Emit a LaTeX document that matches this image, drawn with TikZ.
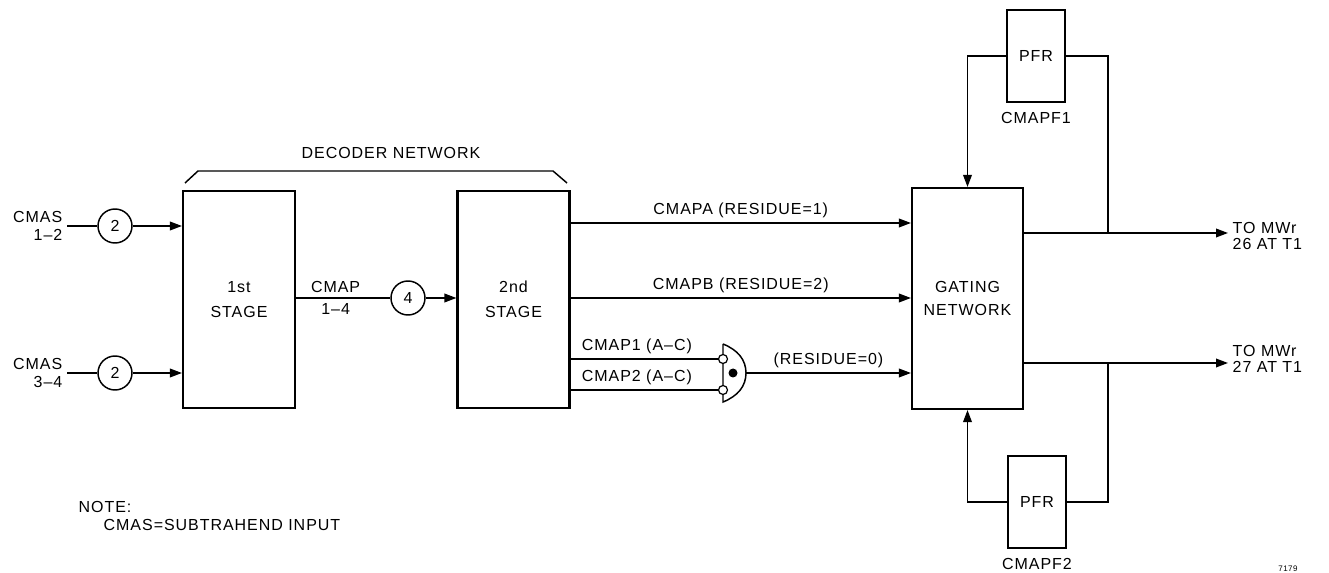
\documentclass[tikz,border=0pt]{standalone}
\usepackage{fontspec}
\setmainfont{Liberation Sans}[LetterSpace=6]
\usetikzlibrary{arrows.meta,positioning}

\begin{document}
\begin{tikzpicture}[
    x=0.75pt, y=-0.75pt,
    every node/.style={align=center, font=\fontsize{12}{13.5}\selectfont},
    stagebox/.style={rectangle, draw, line width=1.6pt, minimum width=84pt, minimum height=162.75pt},
    gatebox/.style={rectangle, draw, line width=1.6pt, minimum width=83.25pt, minimum height=165.75pt},
    pfrbox/.style={rectangle, draw, line width=1.3pt, minimum width=43.5pt, minimum height=69.5pt},
    numcirc/.style={circle, draw, line width=1.1pt, minimum size=25.5pt, inner sep=0pt},
    bubble/.style={circle, draw, line width=0.9pt, fill=white, minimum size=6.75pt, inner sep=0pt},
    wire/.style={line width=1.1pt},
    arrow/.style={line width=1.1pt, -{Triangle[length=9pt, width=6.5pt]}}
]
\useasboundingbox (0,0) rectangle (1329,573);

% Decoder network
\node[stagebox] (stage1) at (239,299.5) {1st\\[5pt]STAGE};
\node[stagebox] (stage2) at (513.5,299.5) {2nd\\[5pt]STAGE};
\draw[wire] (185,183) -- (198,171) -- (553,171) -- (567,183);
\node (decoder) at (391,153) {DECODER NETWORK};

% Subtrahend inputs
\node[align=right, anchor=east] (cmas12) at (67,226) {CMAS\\[0.5pt]1\textendash2};
\node[align=right, anchor=east] (cmas34) at (67,373) {CMAS\\[0.5pt]3\textendash4};
\node[numcirc] (n1) at (115,226) {2};
\node[numcirc] (n2) at (115,373) {2};
\draw[wire] (cmas12) -- (n1);
\draw[wire] (cmas34) -- (n2);
\draw[arrow] (n1) -- (n1 -| stage1.west);
\draw[arrow] (n2) -- (n2 -| stage1.west);

% Stage 1 to stage 2
\node[numcirc] (n3) at (408,298) {4};
\draw[wire] (stage1.east |- n3) -- (n3) node[pos=0.42, above] {CMAP} node[pos=0.42, below] {1\textendash4};
\draw[arrow] (n3) -- (n3 -| stage2.west);

% Gating network
\node[gatebox] (gating) at (967.5,298.5) {GATING\\[4pt]NETWORK};

\coordinate (rowA) at (0,223);
\coordinate (rowB) at (0,298);
\draw[arrow] (stage2.east |- rowA) -- (gating.west |- rowA) node[midway, above] {CMAPA (RESIDUE=1)};
\draw[arrow] (stage2.east |- rowB) -- (gating.west |- rowB) node[midway, above] {CMAPB (RESIDUE=2)};

% Residue 0 gate
\draw[wire] (723,344) -- (723,402) .. controls (738,396) and (746,386) .. (746,373)
    .. controls (746,360) and (738,350) .. (723,344);
\node[bubble] (b1) at (723,359) {};
\node[bubble] (b2) at (723,390) {};
\node[circle, fill, inner sep=0pt, minimum size=6.75pt] (dot) at (733,373) {};
\draw[wire] (stage2.east |- b1) -- (b1) node[pos=0.45, above] {CMAP1 (A\textendash C)};
\draw[wire] (stage2.east |- b2) -- (b2) node[pos=0.45, above] {CMAP2 (A\textendash C)};
\coordinate (gateout) at (746,373);
\draw[arrow] (gateout) -- (gating.west |- gateout) node[midway, above] {(RESIDUE=0)};

% Outputs
\coordinate (outA) at (1108,233);
\coordinate (outB) at (1108,363);
\node[anchor=west, align=left] (mwr26) at (1228,236) {TO MWr\\[-1.5pt]26 AT T1};
\node[anchor=west, align=left] (mwr27) at (1228,359) {TO MWr\\[-1.5pt]27 AT T1};
\draw[arrow] (gating.east |- outA) -- (mwr26.west |- outA);
\draw[arrow] (gating.east |- outB) -- (mwr27.west |- outB);

% Feedback registers
\node[pfrbox] (pfr1) at (1036,56) {PFR};
\node[below=3pt of pfr1] (cmapf1) {CMAPF1};
\node[pfrbox] (pfr2) at (1037,502) {PFR};
\node[below=3pt of pfr2] (cmapf2) {CMAPF2};
\draw[wire] (outA) |- (pfr1.east);
\draw[arrow] (pfr1.west) -| (gating.north);
\draw[wire] (outB) |- (pfr2.east);
\draw[arrow] (pfr2.west) -| (gating.south);

% Note
\node[anchor=west] (note) at (74,507) {NOTE:};
\node[anchor=west] (notetext) at (99,525) {CMAS=SUBTRAHEND INPUT};
\node[font=\fontsize{6}{7}\selectfont] (fignum) at (1288,569) {7179};

\end{tikzpicture}
\end{document}
